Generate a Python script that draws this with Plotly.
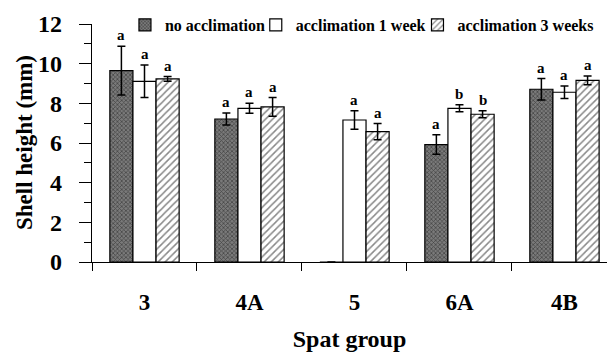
import plotly.graph_objects as go

groups = ["3", "4A", "5", "6A", "4B"]
series_names = ["no acclimation", "acclimation 1 week", "acclimation 3 weeks"]
no_accl = [9.65, 7.21, 0.0, 5.92, 8.71]
no_accl_err = [1.23, 0.30, 0.0, 0.49, 0.54]
accl_1w = [9.11, 7.75, 7.16, 7.75, 8.56]
accl_1w_err = [0.82, 0.25, 0.47, 0.18, 0.31]
accl_3w = [9.23, 7.82, 6.57, 7.45, 9.16]
accl_3w_err = [0.12, 0.47, 0.41, 0.18, 0.22]
letters_no = ["a", "a", "", "a", "a"]
letters_1w = ["a", "a", "a", "b", "a"]
letters_3w = ["a", "a", "a", "b", "a"]

FONT = "Liberation Serif"
values = [no_accl, accl_1w, accl_3w]
errors = [no_accl_err, accl_1w_err, accl_3w_err]
letters = [letters_no, letters_1w, letters_3w]
patterns = [
    dict(shape="x", fgcolor="#111111", bgcolor="#7a7a7a", size=3, solidity=0.45),
    dict(shape="", fgcolor="black", bgcolor="white"),
    dict(shape="/", fgcolor="#111111", bgcolor="white", size=5, solidity=0.3),
]
legend_ids = ["legend", "legend2", "legend3"]
legend_x = [0.064, 0.318, 0.632]

bargap = 0.34
fig = go.Figure()
for k in range(3):
    fig.add_trace(go.Bar(
        x=groups, y=values[k], name=series_names[k], legend=legend_ids[k],
        marker=dict(color="white", pattern=patterns[k], line=dict(color="black", width=1.2)),
        error_y=dict(type="data", array=errors[k], visible=True, color="black",
                     thickness=1.5, width=4),
    ))

bw = (1 - bargap) / 3
annotations = []
for k in range(3):
    off = (k - 1) * bw
    for i, g in enumerate(groups):
        if letters[k][i]:
            annotations.append(dict(
                x=i + off, y=values[k][i] + errors[k][i], xref="x", yref="y",
                text=letters[k][i], showarrow=False, yanchor="bottom", yshift=1,
                font=dict(family=FONT, size=15, color="black", weight="bold"),
            ))
annotations.append(dict(
    text="Shell height (mm)", textangle=-90, showarrow=False,
    xref="paper", yref="paper", x=-0.132, y=0.5, xanchor="center", yanchor="middle",
    font=dict(family=FONT, size=23, color="black", weight="bold"),
))

legend_style = dict(orientation="h", y=0.996, xanchor="left", yanchor="middle",
                    font=dict(family=FONT, size=16, weight="bold"),
                    itemwidth=30, bgcolor="rgba(0,0,0,0)")
legends = {legend_ids[k]: dict(x=legend_x[k], **legend_style) for k in range(3)}

fig.update_layout(
    width=607, height=352,
    margin=dict(l=92, r=0, t=24, b=90),
    paper_bgcolor="white", plot_bgcolor="white",
    barmode="group", bargap=bargap, bargroupgap=0,
    font=dict(family=FONT, color="black", size=20, weight="bold"),
    showlegend=True,
    annotations=annotations,
    xaxis=dict(
        range=[-0.5, 4.405], showline=True, linecolor="black", linewidth=1.2,
        ticks="outside", tickson="boundaries", ticklen=8, tickcolor="black",
        ticklabelstandoff=19,
        tickfont=dict(family=FONT, size=23, weight="bold"),
        title=dict(text="Spat group", font=dict(family=FONT, size=24, weight="bold"), standoff=17),
        showgrid=False, zeroline=False,
    ),
    yaxis=dict(
        range=[0, 12], dtick=2, showline=True, linecolor="black", linewidth=1.2,
        ticks="outside", ticklen=12, tickcolor="black",
        minor=dict(dtick=1, ticks="outside", ticklen=7, tickcolor="black"),
        ticksuffix="\u00a0\u00a0",
        tickfont=dict(family=FONT, size=24, weight="bold"),
        showgrid=False, zeroline=False,
    ),
    **legends,
)

fig.write_html("out.html")
